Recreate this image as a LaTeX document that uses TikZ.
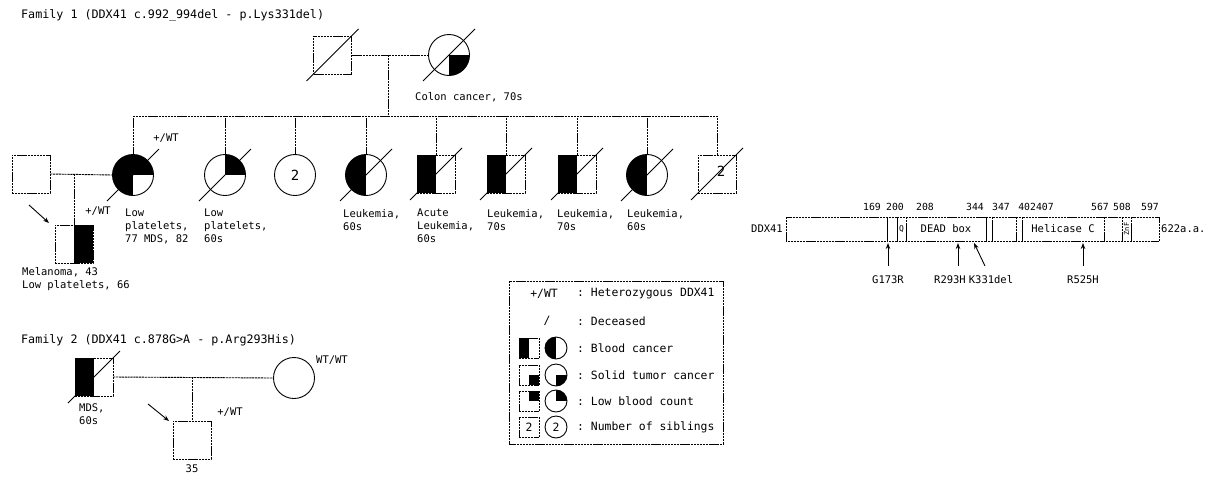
\documentclass[tikz,border=0pt]{standalone}
\usepackage{fontspec}
\setmainfont{DejaVu Sans Mono}
\usetikzlibrary{arrows.meta}
\newcommand{\ftitle}{\fontsize{11.7}{14}\selectfont}
\newcommand{\flab}{\fontsize{10.5}{13}\selectfont}
\newcommand{\fleg}{\fontsize{11.4}{13}\selectfont}
\newcommand{\fnum}{\fontsize{9.8}{12}\selectfont}
\newcommand{\rfill}[5]{\fill ([shift={(#2,#3)}]#1.center) rectangle ([shift={(#4,#5)}]#1.center);}
\newcommand{\cfill}[6]{\begin{scope}\clip (#1.center) circle[radius=#6];\rfill{#1}{#2}{#3}{#4}{#5}\end{scope}}
\newcommand{\dslash}[2]{\draw[sl] ([shift={(-#2,#2)}]#1.center) -- ([shift={(#2,-#2)}]#1.center);}
\tikzset{
 pl/.style={line width=0.9pt, dash pattern=on 2.2pt off 0.7pt},
 sq/.style={draw, pl, rectangle, minimum size=38pt, inner sep=0pt, outer sep=0pt},
 ci/.style={draw, line width=0.9pt, circle, minimum size=41pt, inner sep=0pt, outer sep=0pt},
 lsq/.style={draw, pl, rectangle, minimum size=20pt, inner sep=0pt, outer sep=0pt},
 lci/.style={draw, line width=0.9pt, circle, minimum size=22pt, inner sep=0pt, outer sep=0pt},
 sl/.style={line width=0.9pt},
 lab/.style={inner sep=0pt, font=\flab, align=left, anchor=north west},
 txt/.style={inner sep=0pt, font=\flab},
 legt/.style={inner sep=0pt, font=\fleg, anchor=west},
 num/.style={inner sep=0pt, font=\fnum},
 arr/.style={line width=0.9pt, -{Stealth[length=6pt,width=4.5pt]}},
 seg/.style={draw, pl}
}
\begin{document}
\begin{tikzpicture}[x=1pt,y=-1pt]
\useasboundingbox (0,0) rectangle (1206,477);
% ---------------- Family 1 ----------------
\node[anchor=west, inner sep=0pt, font=\ftitle] (t1) at (21,15) {Family 1 (DDX41 c.992\_994del - p.Lys331del)};
\node[sq] (gf) at (332.5,55) {};
\node[ci] (gm) at (449,55) {};
\cfill{gm}{0}{0}{25}{25}{20.5}
\dslash{gf}{26}
\dslash{gm}{26}
\node[txt, anchor=west] (gml) at (415,97) {Colon cancer, 70s};
\coordinate (d1) at (388,55);
\coordinate (s1) at (388,116);
\draw[pl] (gf.east) -- (gm.west);
\draw[pl] (d1) -- (s1);
% children
\node[ci] (c1) at (133,175) {};
\node[ci] (c2) at (225,175) {};
\node[ci] (c3) at (295,175) {\fontsize{14}{14}\selectfont 2};
\node[ci] (c4) at (366,175) {};
\node[sq] (c5) at (436,174) {};
\node[sq] (c6) at (506,174) {};
\node[sq] (c7) at (577,174) {};
\node[ci] (c8) at (647,175) {};
\node[sq] (c9) at (717,174) {};
\node[inner sep=0pt, font=\fontsize{14}{14}\selectfont] (c9n) at (721,171) {2};
\draw[pl] (c1.north |- s1) -- (c9.north |- s1);
\foreach \c in {c1,c2,c3,c4,c5,c6,c7,c8,c9} {\draw[pl] (\c.north) -- (\c.north |- s1);}
\cfill{c1}{-25}{-25}{0}{25}{20.5}
\cfill{c1}{0}{-25}{25}{0}{20.5}
\cfill{c2}{0}{-25}{25}{0}{20.5}
\cfill{c4}{-25}{-25}{0}{25}{20.5}
\cfill{c8}{-25}{-25}{0}{25}{20.5}
\rfill{c5}{-19}{-19}{0}{19}
\rfill{c6}{-19}{-19}{0}{19}
\rfill{c7}{-19}{-19}{0}{19}
\foreach \c in {c1,c2,c4,c5,c6,c7,c8,c9} {\dslash{\c}{26}}
\node[lab] (l1) at (125,209) {Low\\platelets,\\77 MDS, 82};
\node[lab] (l2) at (204,209) {Low\\platelets,\\60s};
\node[lab] (l4) at (343,209) {Leukemia,\\60s};
\node[lab] (l5) at (417,209) {Acute\\Leukemia,\\60s};
\node[lab] (l6) at (487,209) {Leukemia,\\70s};
\node[lab] (l7) at (557,209) {Leukemia,\\70s};
\node[lab] (l8) at (627,209) {Leukemia,\\60s};
\node[txt] (g1) at (166,138) {+/WT};
% spouse and proband
\node[sq] (sp) at (31,174) {};
\draw[pl] (sp.east) -- (c1.west);
\coordinate (m2) at (74,174);
\node[sq] (pb) at (74,244) {};
\rfill{pb}{0}{-19}{19}{19}
\draw[pl] (m2) -- (pb.north);
\coordinate (a1) at (29,205);
\coordinate (a1e) at (49,223);
\draw[arr] (a1) -- (a1e);
\node[txt] (g2) at (98,211) {+/WT};
\node[lab] (l0) at (22,267) {Melanoma, 43\\Low platelets, 66};
% ---------------- Family 2 ----------------
\node[anchor=west, inner sep=0pt, font=\ftitle] (t2) at (21,340) {Family 2 (DDX41 c.878G>A - p.Arg293His)};
\node[sq] (f2) at (94,377) {};
\rfill{f2}{-19}{-19}{0}{19}
\dslash{f2}{26}
\node[ci] (w2) at (294,378) {};
\draw[pl] (f2.east) -- (w2.west);
\coordinate (m3) at (192,377);
\node[sq] (p2) at (192,440) {};
\draw[pl] (m3) -- (p2.north);
\node[lab] (l9) at (79,403) {MDS,\\60s};
\node[txt, anchor=west] (g3) at (316,360) {WT/WT};
\node[txt] (g4) at (230,412) {+/WT};
\node[txt] (age) at (192,469) {35};
\coordinate (a2) at (148,404);
\coordinate (a2e) at (169,421);
\draw[arr] (a2) -- (a2e);
% ---------------- Legend ----------------
\draw[pl] (509,281) rectangle (723,444);
\node[txt, font=\fleg] (k1) at (544,294) {+/WT};
\node[txt, font=\fleg] (k2) at (547,321) {/};
\node[lsq] (q3) at (529,348) {};
\node[lci] (o3) at (556,348) {};
\rfill{q3}{-10}{-10}{0}{10}
\cfill{o3}{-12}{-12}{0}{12}{11}
\node[lsq] (q4) at (529,375) {};
\node[lci] (o4) at (556,375) {};
\rfill{q4}{0}{0}{10}{10}
\cfill{o4}{0}{0}{12}{12}{11}
\node[lsq] (q5) at (529,401) {};
\node[lci] (o5) at (556,401) {};
\rfill{q5}{0}{-10}{10}{0}
\cfill{o5}{0}{-12}{12}{0}{11}
\node[lsq, font=\fleg] (q6) at (529,427) {2};
\node[lci, font=\fleg] (o6) at (556,427) {2};
\foreach \y/\t in {294/Heterozygous DDX41, 321/Deceased, 348/Blood cancer, 375/Solid tumor cancer, 401/Low blood count, 427/Number of siblings} {
  \node[legt] at (577,\y) {:\ \t};
}
% ---------------- DDX41 protein ----------------
\foreach \a/\b in {786/887, 887/897, 897/906, 906/986, 986/992, 992/1016, 1016/1022, 1022/1104, 1104/1122, 1122/1131, 1131/1159} {
  \draw[seg] (\a,217) rectangle (\b,241);
}
\node[txt, anchor=east] (px) at (783,229) {DDX41};
\node[txt, anchor=west] (pe) at (1161,229) {622a.a.};
\node[txt, font=\fontsize{8}{8}\selectfont] (pq) at (901.5,229) {Q};
\node[txt] (pd) at (946,229) {DEAD box};
\node[txt] (ph) at (1063,229) {Helicase C};
\node[txt, rotate=90, font=\fontsize{7}{7}\selectfont] (pz) at (1126.5,229) {ZnF};
\foreach \x/\t in {872/169, 895/200, 925/208, 975/344, 1001/347, 1036/402407, 1100/567, 1122/508, 1150/597} {
  \node[num] at (\x,207) {\t};
}
\coordinate (v1) at (888,266); \coordinate (v1e) at (888,243);
\coordinate (v2) at (958,266); \coordinate (v2e) at (958,243);
\coordinate (v3) at (985,266); \coordinate (v3e) at (974,243);
\coordinate (v4) at (1083,266); \coordinate (v4e) at (1083,243);
\draw[arr] (v1) -- (v1e);
\draw[arr] (v2) -- (v2e);
\draw[arr] (v3) -- (v3e);
\draw[arr] (v4) -- (v4e);
\node[txt] (n1) at (888,280) {G173R};
\node[txt] (n2) at (950,280) {R293H};
\node[txt] (n3) at (991,280) {K331del};
\node[txt] (n4) at (1083,280) {R525H};
\end{tikzpicture}
\end{document}
